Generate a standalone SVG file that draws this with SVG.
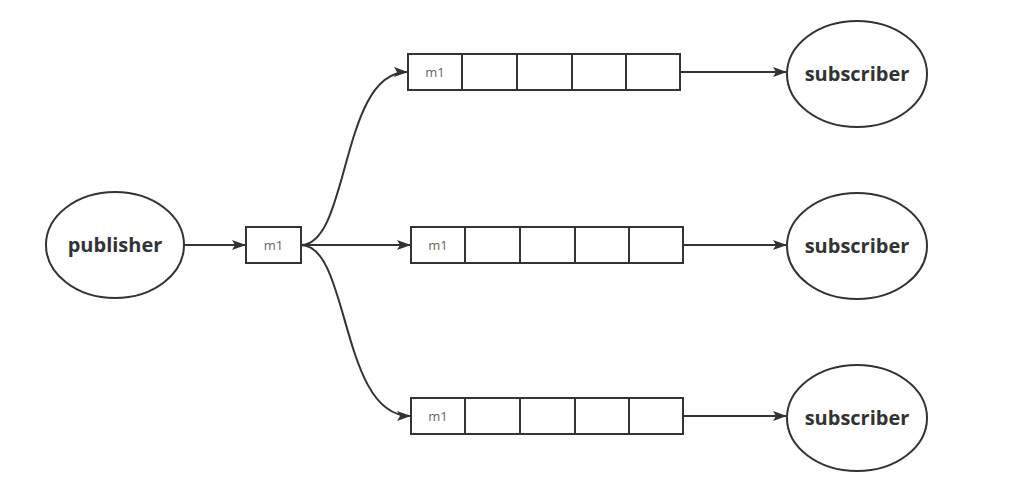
<svg xmlns="http://www.w3.org/2000/svg" width="1033" height="495" viewBox="0 0 1033 495">
<style>
.sh{fill:#fff;stroke:#333;stroke-width:2}
.ln{fill:none;stroke:#333;stroke-width:2}
.big{font-family:"Open Sans","Liberation Sans",sans-serif;font-weight:bold;font-size:20px;fill:#333;text-anchor:middle}
.sm{font-family:"Open Sans","Liberation Sans",sans-serif;font-size:13px;fill:#666;text-anchor:middle}
</style>
<defs>
<marker id="ah" markerWidth="14" markerHeight="10" refX="13" refY="5" orient="auto" markerUnits="userSpaceOnUse">
<path d="M0,0 L14,5 L0,10 L3,5 Z" fill="#333"/>
</marker>
</defs>
<rect width="1033" height="495" fill="#fff"/>
<g id="connectors">
<line class="ln" x1="184" y1="245" x2="245" y2="245" marker-end="url(#ah)"/>
<path class="ln" d="M301,245 C350,245 340,72 407,72" marker-end="url(#ah)"/>
<line class="ln" x1="301" y1="245" x2="410" y2="245" marker-end="url(#ah)"/>
<path class="ln" d="M301,245 C350,245 340,416 410,416" marker-end="url(#ah)"/>
<line class="ln" x1="680" y1="72" x2="786" y2="72" marker-end="url(#ah)"/>
<line class="ln" x1="683" y1="245" x2="786" y2="245" marker-end="url(#ah)"/>
<line class="ln" x1="683" y1="416" x2="786" y2="416" marker-end="url(#ah)"/>
</g>
<g id="publisher">
<ellipse class="sh" cx="115" cy="245" rx="69" ry="53"/>
<text class="big" x="115" y="252">publisher</text>
</g>
<g id="msg">
<rect class="sh" x="246" y="227" width="55" height="36"/>
<text class="sm" x="273.5" y="250">m1</text>
</g>
<g id="queue1">
<rect class="sh" x="408" y="54" width="272" height="36"/>
<path class="ln" d="M462,54V90M517,54V90M572,54V90M626,54V90"/>
<text class="sm" x="435" y="77">m1</text>
</g>
<g id="queue2">
<rect class="sh" x="411" y="227" width="272" height="36"/>
<path class="ln" d="M465,227V263M520,227V263M575,227V263M629,227V263"/>
<text class="sm" x="438" y="250">m1</text>
</g>
<g id="queue3">
<rect class="sh" x="411" y="398" width="272" height="36"/>
<path class="ln" d="M465,398V434M520,398V434M575,398V434M629,398V434"/>
<text class="sm" x="438" y="421">m1</text>
</g>
<g id="subscriber1">
<ellipse class="sh" cx="857" cy="74" rx="70" ry="53"/>
<text class="big" x="857" y="81">subscriber</text>
</g>
<g id="subscriber2">
<ellipse class="sh" cx="857" cy="246" rx="70" ry="53"/>
<text class="big" x="857" y="253">subscriber</text>
</g>
<g id="subscriber3">
<ellipse class="sh" cx="857" cy="418" rx="70" ry="53"/>
<text class="big" x="857" y="425">subscriber</text>
</g>
</svg>
